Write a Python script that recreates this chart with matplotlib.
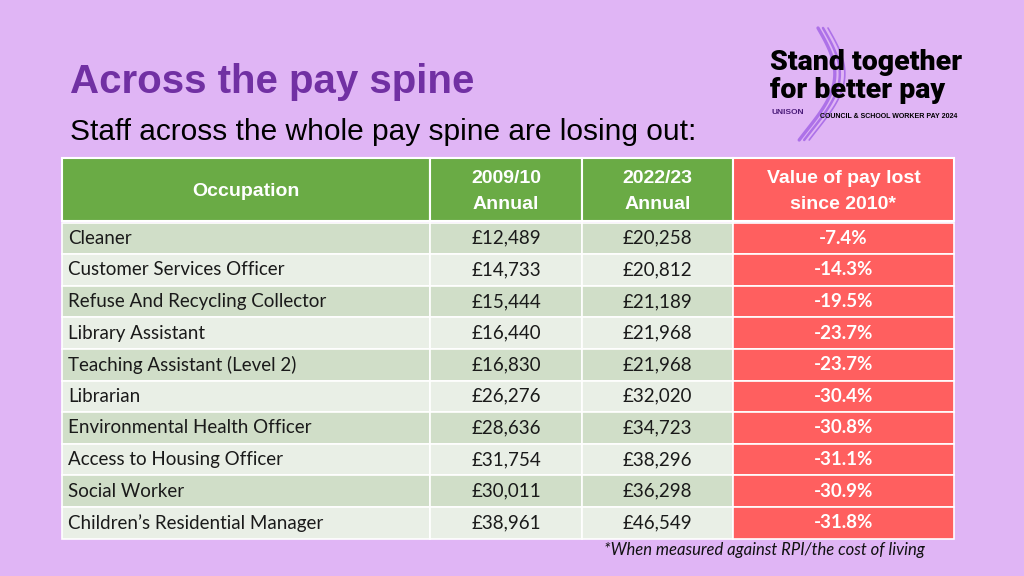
import matplotlib
matplotlib.use("Agg")
import matplotlib.pyplot as plt
from matplotlib.patches import Rectangle
import numpy as np

occupations = ["Cleaner", "Customer Services Officer", "Refuse And Recycling Collector",
               "Library Assistant", "Teaching Assistant (Level 2)", "Librarian",
               "Environmental Health Officer", "Access to Housing Officer",
               "Social Worker", "Children\u2019s Residential Manager"]
pay_2009 = [12489, 14733, 15444, 16440, 16830, 26276, 28636, 31754, 30011, 38961]
pay_2022 = [20258, 20812, 21189, 21968, 21968, 32020, 34723, 38296, 36298, 46549]
pay_lost = [-7.4, -14.3, -19.5, -23.7, -23.7, -30.4, -30.8, -31.1, -30.9, -31.8]
headers = ["Occupation", "2009/10\nAnnual", "2022/23\nAnnual", "Value of pay lost\nsince 2010*"]

BG = "#e0b5f5"
PURPLE = "#7130a3"
GREEN = "#6aab45"
RED = "#ff5f5f"
ROW_DARK = "#d0dec8"
ROW_LIGHT = "#e9efe6"

# column edges and row geometry in pixels
col_x = [62, 430, 582, 733, 954]
head_top, head_bot = 158, 221
row_h = 31.6

fig = plt.figure(figsize=(10.24, 5.76), dpi=100)
fig.patch.set_facecolor(BG)
ax = fig.add_axes([0, 0, 1, 1])
ax.set_xlim(0, 1024)
ax.set_ylim(576, 0)
ax.axis("off")

ax.text(70, 82, "Across the pay spine", fontsize=29, fontweight="bold",
        color=PURPLE, family="Liberation Sans", va="center")
ax.text(70, 132, "Staff across the whole pay spine are losing out:", fontsize=21.5,
        color="black", family="Liberation Sans", va="center")

# header
for j in range(4):
    c = RED if j == 3 else GREEN
    ax.add_patch(Rectangle((col_x[j], head_top), col_x[j + 1] - col_x[j], head_bot - head_top,
                           facecolor=c, edgecolor="white", lw=1.5))
    ax.text((col_x[j] + col_x[j + 1]) / 2, (head_top + head_bot) / 2 + 2, headers[j],
            color="white", fontsize=14, fontweight="bold", family="Liberation Sans",
            ha="center", va="center", linespacing=1.65)

# body rows
for i, occ in enumerate(occupations):
    y0 = head_bot + 1.5 + i * row_h
    yc = y0 + row_h / 2
    fill = ROW_DARK if i % 2 == 0 else ROW_LIGHT
    for j in range(4):
        c = RED if j == 3 else fill
        ax.add_patch(Rectangle((col_x[j], y0), col_x[j + 1] - col_x[j], row_h,
                               facecolor=c, edgecolor="white", lw=1.2))
    ax.text(col_x[0] + 6, yc, occ, fontsize=13.5, family="Lato", va="center", color="#1a1a1a")
    ax.text((col_x[1] + col_x[2]) / 2, yc, f"\u00a3{pay_2009[i]:,}", fontsize=13.5,
            family="Lato", va="center", ha="center", color="#1a1a1a")
    ax.text((col_x[2] + col_x[3]) / 2, yc, f"\u00a3{pay_2022[i]:,}", fontsize=13.5,
            family="Lato", va="center", ha="center", color="#1a1a1a")
    ax.text((col_x[3] + col_x[4]) / 2, yc, f"{pay_lost[i]:.1f}%", fontsize=13.5,
            family="Lato", fontweight="bold", va="center", ha="center", color="white")

ax.text(764, 550, "*When measured against RPI/the cost of living", fontsize=12,
        family="Lato", style="italic", ha="center", va="center", color="#111111")

# logo
t = np.linspace(0, 1, 100)
for k, off in enumerate([0, 5, 10]):
    xs = 818 + off + 22 * np.sin(np.pi * t * 1.1) - 12 * t
    ys = 28 + 112 * t
    ax.plot(xs, ys, color="#a466e6", lw=2.4 - 0.6 * k, alpha=0.85, solid_capstyle="round")
ax.text(770, 63, "Stand together", fontsize=20.5, fontweight="heavy", color="black",
        family="Roboto", va="center")
ax.text(770, 91, "for better pay", fontsize=20.5, fontweight="heavy", color="black",
        family="Roboto", va="center")
ax.text(772, 113, "UNISON", fontsize=6, fontweight="bold", color="#4b1c7a",
        family="Liberation Sans", va="center")
ax.text(820, 117, "COUNCIL & SCHOOL WORKER PAY 2024", fontsize=5, fontweight="bold",
        color="black", family="Liberation Sans", va="center")

fig.savefig("out.png", dpi=100, facecolor=BG)
